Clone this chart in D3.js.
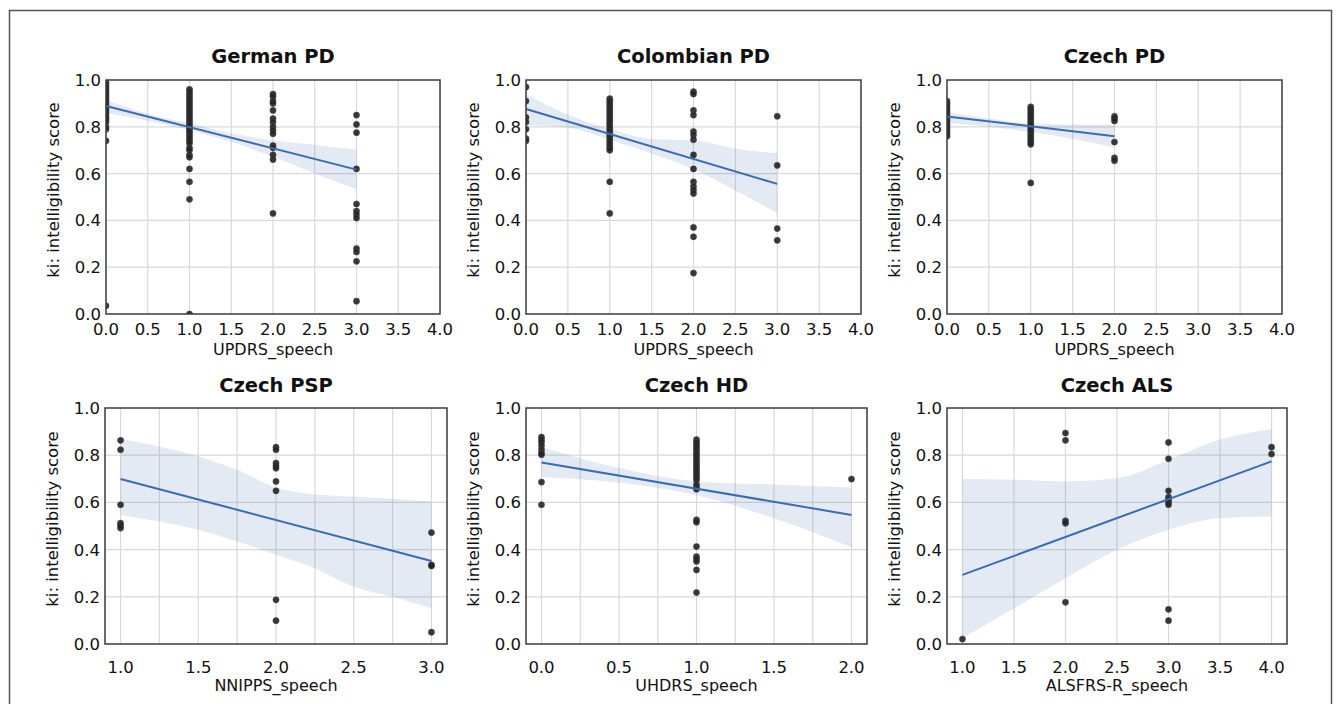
<!DOCTYPE html>
<html>
<head>
<meta charset="utf-8">
<script src="https://cdn.jsdelivr.net/npm/d3@7"></script>
<style>
  html, body { margin: 0; padding: 0; background: #fff; }
  svg { display: block; font-family: "DejaVu Sans", sans-serif; }
</style>
</head>
<body>
<svg id="chart" width="1338" height="704"></svg>
<script>
"use strict";

// panel titles and x-axis labels
const titles = ["German PD", "Colombian PD", "Czech PD", "Czech PSP", "Czech HD", "Czech ALS"];
const xLabels = ["UPDRS_speech", "UPDRS_speech", "UPDRS_speech", "NNIPPS_speech", "UHDRS_speech", "ALSFRS-R_speech"];
const yLabel = "ki: intelligibility score";

const xDomains = [[0, 4], [0, 4], [0, 4], [0.9, 3.1], [-0.1, 2.1], [0.85, 4.15]];
const xTickLabels = [
  [0, 0.5, 1, 1.5, 2, 2.5, 3, 3.5, 4],
  [0, 0.5, 1, 1.5, 2, 2.5, 3, 3.5, 4],
  [0, 0.5, 1, 1.5, 2, 2.5, 3, 3.5, 4],
  [1, 1.5, 2, 2.5, 3],
  [0, 0.5, 1, 1.5, 2],
  [1, 1.5, 2, 2.5, 3, 3.5, 4]
];
const xGrid = [
  [0.5, 1, 1.5, 2, 2.5, 3, 3.5],
  [0.5, 1, 1.5, 2, 2.5, 3, 3.5],
  [0.5, 1, 1.5, 2, 2.5, 3, 3.5],
  [1, 1.25, 1.5, 1.75, 2, 2.25, 2.5, 2.75, 3],
  [0, 0.25, 0.5, 0.75, 1, 1.25, 1.5, 1.75, 2],
  [1, 1.5, 2, 2.5, 3, 3.5, 4]
];
const yTicks = [0, 0.2, 0.4, 0.6, 0.8, 1.0];

// scatter points: [speech score, [intelligibility values]]
const germanPD = [
  [0, [0.99, 0.98, 0.97, 0.96, 0.95, 0.94, 0.93, 0.92, 0.91, 0.90, 0.89, 0.88, 0.87, 0.86, 0.85, 0.84, 0.83, 0.82, 0.80, 0.79, 0.74, 0.035]],
  [1, [0.96, 0.95, 0.94, 0.93, 0.92, 0.91, 0.90, 0.89, 0.88, 0.87, 0.86, 0.85, 0.84, 0.83, 0.82, 0.81, 0.80, 0.79, 0.78, 0.77, 0.76, 0.75, 0.74, 0.73, 0.71, 0.70, 0.68, 0.67, 0.62, 0.565, 0.49, 0.0]],
  [2, [0.94, 0.93, 0.91, 0.90, 0.87, 0.835, 0.82, 0.80, 0.785, 0.77, 0.72, 0.71, 0.68, 0.66, 0.43]],
  [3, [0.85, 0.81, 0.775, 0.62, 0.47, 0.44, 0.425, 0.41, 0.28, 0.265, 0.225, 0.055]]
];
const colombianPD = [
  [0, [0.97, 0.91, 0.84, 0.82, 0.79, 0.75, 0.74]],
  [1, [0.92, 0.91, 0.90, 0.89, 0.88, 0.87, 0.86, 0.85, 0.84, 0.83, 0.82, 0.81, 0.80, 0.79, 0.78, 0.77, 0.76, 0.75, 0.74, 0.73, 0.72, 0.71, 0.70, 0.565, 0.43]],
  [2, [0.95, 0.94, 0.87, 0.85, 0.78, 0.765, 0.745, 0.68, 0.62, 0.565, 0.545, 0.53, 0.515, 0.37, 0.33, 0.175]],
  [3, [0.845, 0.635, 0.365, 0.315]]
];
const czechPD = [
  [0, [0.91, 0.90, 0.89, 0.88, 0.87, 0.86, 0.85, 0.84, 0.83, 0.82, 0.81, 0.80, 0.79, 0.78, 0.77, 0.76]],
  [1, [0.885, 0.875, 0.865, 0.855, 0.845, 0.835, 0.825, 0.815, 0.805, 0.795, 0.785, 0.775, 0.765, 0.755, 0.745, 0.735, 0.725, 0.56]],
  [2, [0.845, 0.835, 0.825, 0.735, 0.667, 0.655]]
];
const czechPSP = [
  [1, [0.863, 0.823, 0.59, 0.512, 0.502, 0.491]],
  [2, [0.834, 0.823, 0.767, 0.755, 0.745, 0.689, 0.649, 0.187, 0.099]],
  [3, [0.472, 0.335, 0.331, 0.05]]
];
const czechHD = [
  [0, [0.877, 0.866, 0.855, 0.84, 0.823, 0.809, 0.802, 0.686, 0.59]],
  [1, [0.866, 0.855, 0.845, 0.835, 0.825, 0.815, 0.805, 0.795, 0.785, 0.775, 0.765, 0.755, 0.745, 0.735, 0.725, 0.715, 0.705, 0.695, 0.675, 0.665, 0.656, 0.526, 0.516, 0.413, 0.37, 0.36, 0.35, 0.314, 0.218]],
  [2, [0.699]]
];
const czechALS = [
  [1, [0.021]],
  [2, [0.894, 0.863, 0.522, 0.512, 0.177]],
  [3, [0.854, 0.785, 0.649, 0.622, 0.611, 0.6, 0.59, 0.147, 0.099]],
  [4, [0.834, 0.805]]
];
const panelPoints = [germanPD, colombianPD, czechPD, czechPSP, czechHD, czechALS];

// fitted regression lines: [[x0, y0], [x1, y1]]
const fitLines = [
  [[0, 0.889], [3, 0.617]],
  [[0, 0.876], [3, 0.556]],
  [[0, 0.844], [2, 0.760]],
  [[1, 0.699], [3, 0.352]],
  [[0, 0.769], [2, 0.547]],
  [[1, 0.293], [4, 0.774]]
];

// confidence bands: [x, lower, upper]
const bands = [
  [[0, 0.860, 0.915], [0.5, 0.826, 0.856], [1, 0.785, 0.815], [1.5, 0.735, 0.772], [2, 0.672, 0.742], [2.5, 0.600, 0.722], [3, 0.533, 0.702]],
  [[0, 0.808, 0.939], [0.5, 0.796, 0.852], [1, 0.745, 0.792], [1.5, 0.686, 0.748], [2, 0.618, 0.742], [2.5, 0.528, 0.706], [3, 0.431, 0.687]],
  [[0, 0.817, 0.861], [0.5, 0.800, 0.836], [1, 0.778, 0.814], [1.5, 0.748, 0.810], [2, 0.713, 0.810]],
  [[1, 0.547, 0.870], [1.25, 0.519, 0.837], [1.5, 0.484, 0.795], [1.75, 0.434, 0.738], [2, 0.378, 0.663], [2.25, 0.321, 0.634], [2.5, 0.243, 0.625], [2.75, 0.200, 0.614], [3, 0.151, 0.604]],
  [[0, 0.708, 0.835], [0.5, 0.684, 0.746], [1, 0.630, 0.690], [1.5, 0.533, 0.676], [2, 0.410, 0.663]],
  [[1, 0.024, 0.699], [1.5, 0.151, 0.696], [2, 0.279, 0.689], [2.5, 0.399, 0.703], [3, 0.484, 0.780], [3.5, 0.533, 0.866], [4, 0.540, 0.911]]
];

// plot-area boxes [left, top, right, bottom]
const boxes = [
  [106, 80, 440, 314], [526, 80, 861, 314], [947, 80, 1282, 314],
  [105, 408, 447, 644], [526, 408, 867, 644], [947, 408, 1287, 644]
];

const svg = d3.select("#chart");

svg.append("rect")
  .attr("x", 9.5).attr("y", 10.5)
  .attr("width", 1322).attr("height", 720)
  .attr("fill", "none")
  .attr("stroke", "#555")
  .attr("stroke-width", 1.5);

const fmt = d3.format(".1f");

titles.forEach(function(title, i) {
  const b = boxes[i];
  const row = i < 3 ? 0 : 1;
  const x = d3.scaleLinear().domain(xDomains[i]).range([b[0], b[2]]);
  const y = d3.scaleLinear().domain([0, 1]).range([b[3], b[1]]);
  const g = svg.append("g");
  const clipId = "clip" + i;

  g.append("clipPath").attr("id", clipId)
    .append("rect")
    .attr("x", b[0]).attr("y", b[1])
    .attr("width", b[2] - b[0]).attr("height", b[3] - b[1]);

  // grid
  g.selectAll(".vgrid").data(xGrid[i]).enter()
    .append("line")
    .attr("x1", d => x(d)).attr("x2", d => x(d))
    .attr("y1", b[1]).attr("y2", b[3])
    .attr("stroke", "#d9d9d9").attr("stroke-width", 1.2);

  g.selectAll(".hgrid").data(yTicks.slice(1, 5)).enter()
    .append("line")
    .attr("x1", b[0]).attr("x2", b[2])
    .attr("y1", d => y(d)).attr("y2", d => y(d))
    .attr("stroke", "#d9d9d9").attr("stroke-width", 1.2);

  // confidence band
  const area = d3.area()
    .x(d => x(d[0]))
    .y0(d => y(d[1]))
    .y1(d => y(d[2]))
    .curve(d3.curveMonotoneX);

  g.append("path")
    .datum(bands[i])
    .attr("clip-path", "url(#" + clipId + ")")
    .attr("d", area)
    .attr("fill", "#4c72b0")
    .attr("fill-opacity", 0.15);

  // points
  const pts = [];
  panelPoints[i].forEach(function(col) {
    col[1].forEach(function(v) { pts.push([col[0], v]); });
  });

  g.selectAll(".pt").data(pts).enter()
    .append("circle")
    .attr("clip-path", "url(#" + clipId + ")")
    .attr("cx", d => x(d[0]))
    .attr("cy", d => y(d[1]))
    .attr("r", 3.1)
    .attr("fill", "#222")
    .attr("fill-opacity", 0.9)
    .attr("stroke", "#444")
    .attr("stroke-width", 0.5);

  // fit line
  g.append("path")
    .datum(fitLines[i])
    .attr("d", d3.line().x(d => x(d[0])).y(d => y(d[1])))
    .attr("fill", "none")
    .attr("stroke", "#3a6cb2")
    .attr("stroke-width", 2);

  // frame
  g.append("rect")
    .attr("x", b[0]).attr("y", b[1])
    .attr("width", b[2] - b[0]).attr("height", b[3] - b[1])
    .attr("fill", "none")
    .attr("stroke", "#3a3a3a")
    .attr("stroke-width", 1.5);

  // tick labels
  const xTickY = row == 0 ? b[3] + 21 : b[3] + 29;
  g.selectAll(".xt").data(xTickLabels[i]).enter()
    .append("text")
    .attr("x", d => x(d))
    .attr("y", xTickY)
    .attr("text-anchor", "middle")
    .attr("font-size", 16.5)
    .attr("fill", "#111")
    .text(d => fmt(d));

  g.selectAll(".yt").data(yTicks).enter()
    .append("text")
    .attr("x", b[0] - 5)
    .attr("y", d => y(d))
    .attr("dy", "0.36em")
    .attr("text-anchor", "end")
    .attr("font-size", 16.5)
    .attr("fill", "#111")
    .text(d => fmt(d));

  // axis labels
  g.append("text")
    .attr("x", (b[0] + b[2]) / 2)
    .attr("y", row == 0 ? b[3] + 41 : b[3] + 47)
    .attr("text-anchor", "middle")
    .attr("font-size", 16)
    .attr("fill", "#111")
    .text(xLabels[i]);

  const cy = (b[1] + b[3]) / 2 - 7;
  g.append("text")
    .attr("transform", "translate(" + (b[0] - 47) + "," + cy + ") rotate(-90)")
    .attr("text-anchor", "middle")
    .attr("font-size", 16.5)
    .attr("fill", "#111")
    .text(yLabel);

  // title
  g.append("text")
    .attr("x", (b[0] + b[2]) / 2)
    .attr("y", row == 0 ? 63 : 392)
    .attr("text-anchor", "middle")
    .attr("font-size", 19.5)
    .attr("font-weight", "bold")
    .attr("fill", "#111")
    .text(title);
});
</script>
</body>
</html>
